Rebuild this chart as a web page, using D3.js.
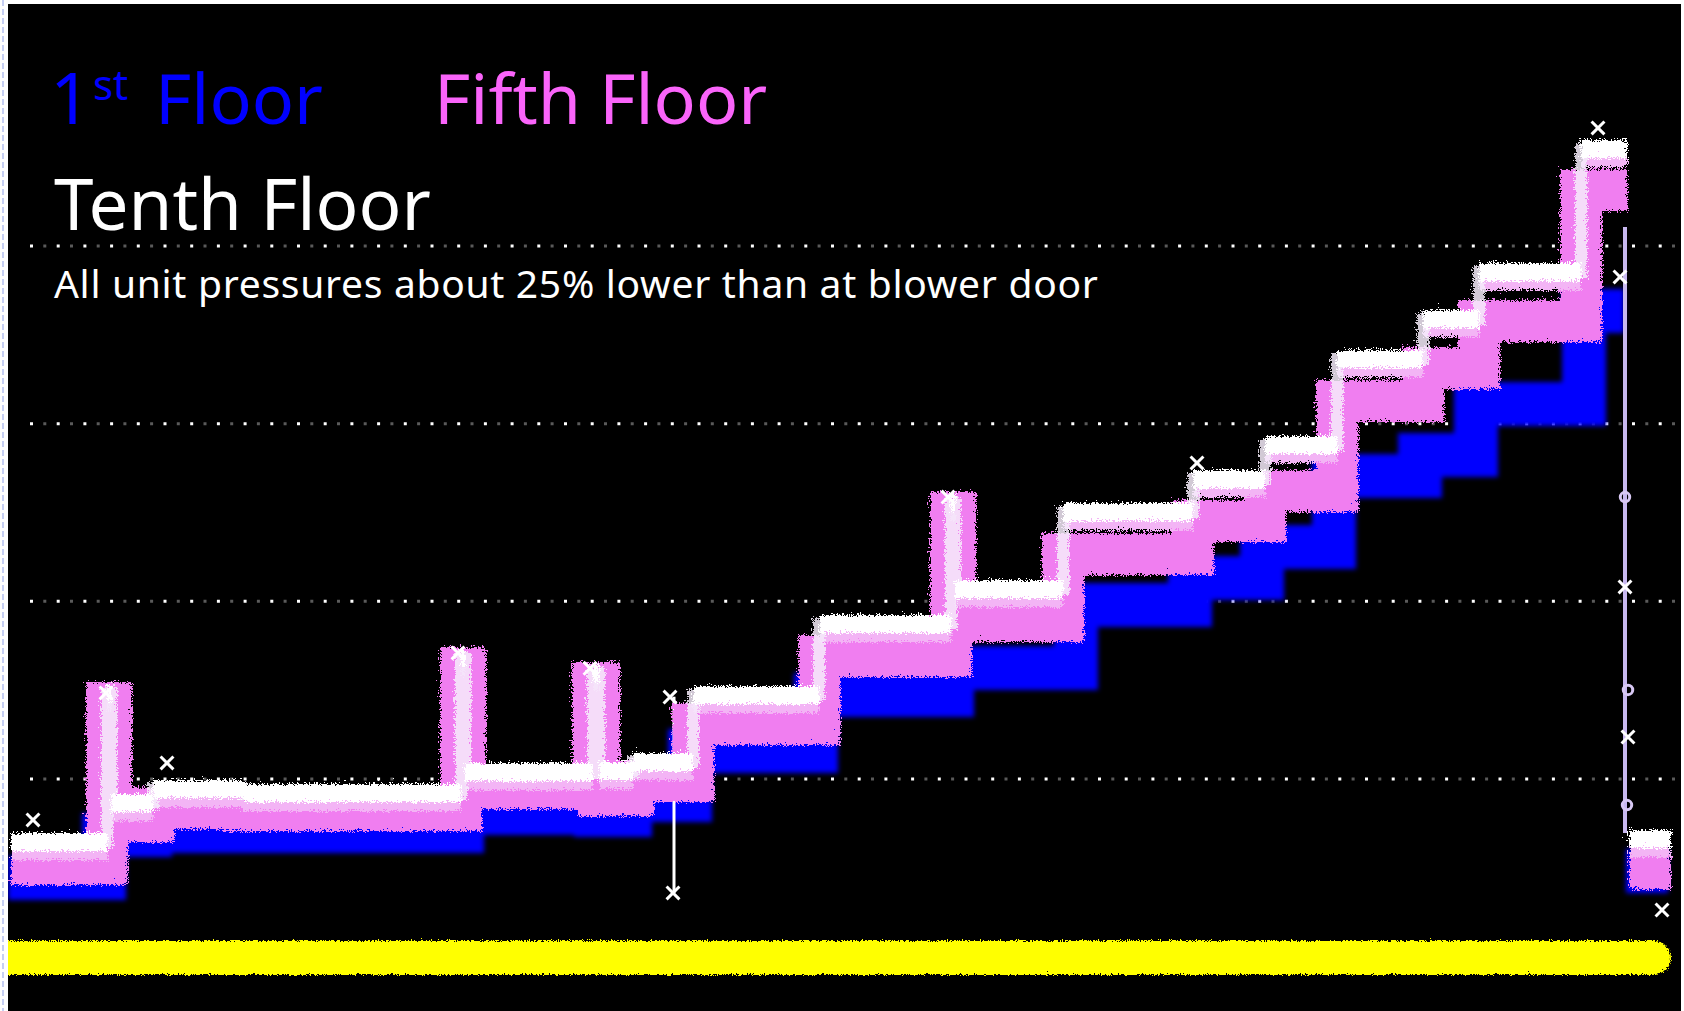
<!DOCTYPE html>
<html>
<head>
<meta charset="utf-8">
<script src="https://cdn.jsdelivr.net/npm/d3@7"></script>
<style>
  html, body { margin: 0; padding: 0; background: #ffffff; }
  svg { display: block; }
  text { font-family: "Noto Sans", "Open Sans", sans-serif; }
</style>
</head>
<body>
<div id="chart"></div>
<script>
'use strict';

// ============================================================
//  Unit pressures on three floors during the stack test
//  (step trace from the data logger, outdoor reference = 0)
// ============================================================

// ── Data ─────────────────────────────────────────────────────
// elapsed time (s) of each logged step; null row = logger gap
const timeSec    = [0, 48, 50, 71, 116, 225, 227, 291, 294, 311, 341, 404, 470, 472,
                    526, 534, 591, 627, 663, 706, 734, 785, 788, 808, 808, 809, 830];
const tenthFloor = [6.59, 14.98, 8.78, 9.57, 9.35, 16.95, 10.53, 16.10, 10.59, 11.09,
                    14.86, 18.86, 25.68, 20.83, 25.17, 25.17, 27.03, 28.94, 33.78,
                    36.04, 38.68, 45.61, 45.61, 45.61, null, 6.76, 6.76];
const fifthFloor = [5.35, 14.41, 7.77, 8.50, 8.39, 16.39, 9.63, 15.54, 9.23, 10.02,
                    13.23, 17.06, 25.11, 19.03, 22.80, 22.80, 24.66, 26.35, 31.42,
                    33.28, 35.92, 43.30, 43.30, 43.30, null, 5.12, 5.12];
const firstFloor = [4.39, 6.81, 6.81, 7.04, 7.04, 7.04, 8.05, 8.05, 7.94, 8.78,
                    11.54, 14.70, 14.70, 16.22, 16.22, 19.76, 21.28, 23.03, 27.03,
                    28.21, 31.08, 31.08, 36.32, 36.32, null, 4.79, 4.79];

// outdoor reference trace
const refTime = [0, 822];
const refPa   = [0, 0];

// tenth floor drop-outs (thin trace lines)
const dropTime = [333, 808.5];
const dropTop  = [14.6, 41.05];
const dropLow  = [3.55, 6.93];

// logger event markers on the tenth floor trace
const markTime  = [12.5, 49, 79.5, 225, 291, 331, 332.5, 470, 594.5, 795, 806,
                   808.5, 810, 827, 808.5, 810, 809.5];
const markPa    = [7.66, 14.81, 10.87, 17.06, 16.2, 14.58, 3.55, 25.84, 27.76, 46.62, 38.23,
                   20.78, 12.33, 2.59, 25.84, 14.98, 8.50];
const markShape = ['x', 'x', 'x', 'x', 'x', 'x', 'x', 'x', 'x', 'x', 'x',
                   'x', 'x', 'x', 'o', 'o', 'o'];

const gridValues = [10, 20, 30, 40];

// ── Layout ───────────────────────────────────────────────────
const W = 1684, H = 1011;
const plot = { left: 8, top: 4, right: 1681, bottom: 1011 };

const svg = d3.select('#chart').append('svg')
    .attr('width', W)
    .attr('height', H);

const defs = svg.append('defs');
defs.append('clipPath').attr('id', 'plot-clip')
    .append('rect')
    .attr('x', plot.left).attr('y', plot.top)
    .attr('width', plot.right - plot.left)
    .attr('height', plot.bottom - plot.top);

// filters in user space so flat paths (zero-height bbox) still render
function newFilter(id) {
    return defs.append('filter').attr('id', id)
        .attr('filterUnits', 'userSpaceOnUse')
        .attr('x', 0).attr('y', 0).attr('width', W).attr('height', H);
}

newFilter('soft').append('feGaussianBlur').attr('stdDeviation', 2.5);

function jagFilter(id, scale, seed) {
    const f = newFilter(id);
    f.append('feTurbulence')
        .attr('type', 'turbulence')
        .attr('baseFrequency', 0.45)
        .attr('numOctaves', 1)
        .attr('seed', seed)
        .attr('result', 'noise');
    f.append('feDisplacementMap')
        .attr('in', 'SourceGraphic')
        .attr('in2', 'noise')
        .attr('scale', scale)
        .attr('xChannelSelector', 'R')
        .attr('yChannelSelector', 'G');
}
jagFilter('jag', 9, 4);
jagFilter('jag-soft', 5, 7);

// faint frame line of the captured window
svg.append('line')
    .attr('x1', 3).attr('x2', 3).attr('y1', 0).attr('y2', H)
    .attr('stroke', '#b4c0f0').attr('stroke-width', 1.5)
    .attr('stroke-dasharray', '6 3');

svg.append('rect')
    .attr('x', plot.left).attr('y', plot.top)
    .attr('width', plot.right - plot.left)
    .attr('height', plot.bottom - plot.top)
    .attr('fill', '#000000');

// ── Scales ───────────────────────────────────────────────────
const x = d3.scaleLinear().domain([0, 836]).range([8, 1680]);
const y = d3.scaleLinear().domain([0, 53.6]).range([956, 4]);

const chart = svg.append('g').attr('clip-path', 'url(#plot-clip)');

// ── Grid (dotted) ────────────────────────────────────────────
const gridLeft = 30;
const gridAxis = d3.axisLeft(y)
    .tickValues(gridValues)
    .tickSize(-(plot.right - gridLeft))
    .tickFormat('');

function drawGrid(colour, offset) {
    const g = chart.append('g')
        .attr('transform', `translate(${gridLeft},0)`)
        .call(gridAxis);
    g.select('.domain').remove();
    g.selectAll('.tick line')
        .attr('stroke', colour)
        .attr('stroke-width', 3)
        .attr('stroke-dasharray', '3 23.7')
        .attr('stroke-dashoffset', offset);
}
drawGrid('#5a5a5a', -13.3);
drawGrid('#ffffff', 0);

// ── Traces ───────────────────────────────────────────────────
const rows = timeSec.map((t, i) => ({
    t,
    first: firstFloor[i],
    fifth: fifthFloor[i],
    tenth: tenthFloor[i]
}));

function trace(key) {
    return d3.line()
        .defined(d => d[key] !== null)
        .x(d => x(d.t))
        .y(d => y(d[key]))
        .curve(d3.curveStepAfter);
}

function band(key, above, below) {
    return d3.area()
        .defined(d => d[key] !== null)
        .x(d => x(d.t))
        .y0(d => y(d[key]) + below)
        .y1(d => y(d[key]) - above)
        .curve(d3.curveStepAfter);
}

// outdoor reference
chart.append('path')
    .datum(refTime.map((t, i) => ({ t, v: refPa[i] })))
    .attr('d', d3.line().x(d => x(d.t)).y(d => y(d.v)))
    .attr('fill', 'none')
    .attr('stroke', '#ffff00')
    .attr('stroke-width', 34)
    .attr('stroke-linecap', 'round')
    .attr('filter', 'url(#jag-soft)');

// 1st floor
chart.append('path')
    .datum(rows)
    .attr('d', trace('first'))
    .attr('fill', 'none')
    .attr('stroke', '#0000ff')
    .attr('stroke-width', 44)
    .attr('filter', 'url(#soft)');

// drop-out lines (drawn under the bands)
dropTime.forEach((t, i) => {
    chart.append('line')
        .attr('x1', x(t)).attr('x2', x(t))
        .attr('y1', y(dropTop[i])).attr('y2', y(dropLow[i]))
        .attr('stroke', i === 0 ? '#ffffff' : '#c8b8f0')
        .attr('stroke-width', i === 0 ? 3 : 4);
});

// fifth floor
chart.append('path')
    .datum(rows)
    .attr('d', trace('fifth'))
    .attr('fill', 'none')
    .attr('stroke', '#f07ef0')
    .attr('stroke-width', 42)
    .attr('filter', 'url(#jag)');

// tenth floor: lavender fringe, narrow trace through the steps, white level band
chart.append('path')
    .datum(rows)
    .attr('d', band('tenth', -8, 18))
    .attr('fill', '#f3b4f5')
    .attr('filter', 'url(#jag)');

chart.append('path')
    .datum(rows)
    .attr('d', trace('tenth'))
    .attr('fill', 'none')
    .attr('stroke', '#f6ecfa')
    .attr('stroke-width', 12)
    .attr('stroke-opacity', 0.85)
    .attr('filter', 'url(#jag)');

chart.append('path')
    .datum(rows)
    .attr('d', band('tenth', 9, 9))
    .attr('fill', '#ffffff')
    .attr('filter', 'url(#jag)');

// event markers
markTime.forEach((t, i) => {
    const isO = markShape[i] === 'o';
    chart.append('path')
        .attr('transform', `translate(${x(t)},${y(markPa[i])})`)
        .attr('d', d3.symbol(isO ? d3.symbolCircle : d3.symbolTimes, isO ? 70 : 110)())
        .attr('fill', 'none')
        .attr('stroke', isO ? '#d8c8f4' : '#ffffff')
        .attr('stroke-width', 3);
});

// ── Labels ───────────────────────────────────────────────────
svg.append('text')
    .attr('x', 50).attr('y', 124)
    .attr('font-size', 72)
    .attr('fill', '#0000ff')
    .text('1');

svg.append('text')
    .attr('x', 93).attr('y', 100)
    .attr('font-size', 42)
    .attr('fill', '#0000ff')
    .text('st');

svg.append('text')
    .attr('x', 155).attr('y', 124)
    .attr('font-size', 70)
    .attr('fill', '#0000ff')
    .text('Floor');

svg.append('text')
    .attr('x', 434).attr('y', 124)
    .attr('font-size', 70)
    .attr('fill', '#fa64fa')
    .text('Fifth Floor');

svg.append('text')
    .attr('x', 54).attr('y', 230)
    .attr('font-size', 71)
    .attr('fill', '#ffffff')
    .text('Tenth Floor');

svg.append('text')
    .attr('x', 54).attr('y', 298)
    .attr('font-size', 39)
    .attr('letter-spacing', 0.7)
    .attr('fill', '#ffffff')
    .text('All unit pressures about 25% lower than at blower door');
</script>
</body>
</html>
